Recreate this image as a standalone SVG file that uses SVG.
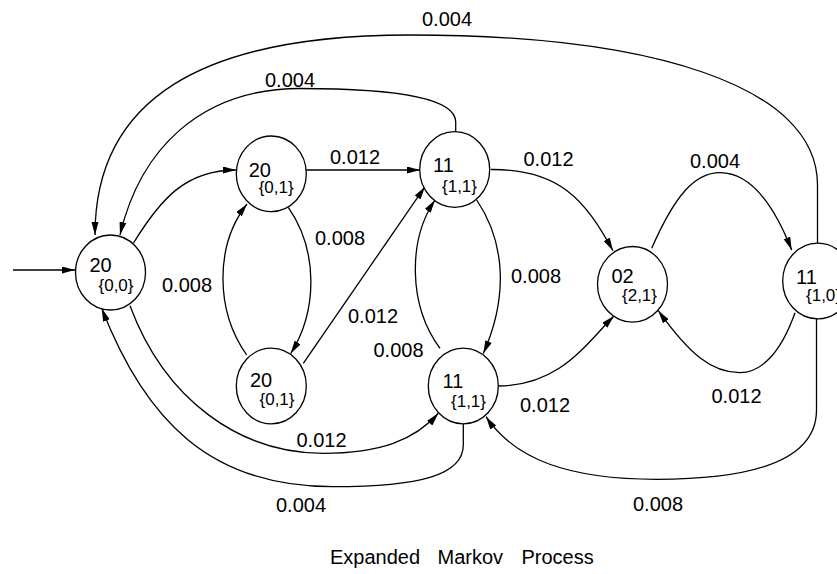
<svg xmlns="http://www.w3.org/2000/svg" width="837" height="574" viewBox="0 0 837 574">
<style>
.n ellipse{fill:#fff;stroke:#000;stroke-width:1.3}
.m{font-family:"Liberation Sans",Arial,sans-serif;font-size:20px;fill:#000}
.s{font-family:"Liberation Sans",Arial,sans-serif;font-size:17px;fill:#000}
.e path{fill:none;stroke:#000;stroke-width:1.3;marker-end:url(#ah)}
.l{font-family:"Liberation Sans",Arial,sans-serif;font-size:20px;fill:#000}
</style>
<defs>
<marker id="ah" markerUnits="userSpaceOnUse" markerWidth="14" markerHeight="8" refX="13" refY="3.5" orient="auto">
<path d="M0,0 L13,3.5 L0,7 z" fill="#000"/>
</marker>
</defs>
<rect width="837" height="574" fill="#fff"/>
<g id="connectors" class="e">
<path d="M13 270 L75 270"/>
<path d="M133.5 243 C160 200,185 170,236 170"/>
<path d="M306 170 L420 170"/>
<path d="M288.3 207.3 C318 250,318 310,290.7 353.5"/>
<path d="M246.7 355 C215 310,215 245,247 204"/>
<path d="M303.3 363.3 L425 186.7"/>
<path d="M476.7 200 C507 245,507 300,483.3 353.5"/>
<path d="M440 348.3 C408 305,408 240,435 200"/>
<path d="M491 169.5 C560 169,585 200,613 250.7"/>
<path d="M651.7 248.3 C675 195,695 172.7,720 172.7 C745 172.7,770 195,791.7 250"/>
<path d="M499 386 C560 385,585 345,614 316"/>
<path d="M795 312.7 C780 355,760 372.7,740 372.7 C712 372.7,690 355,658.3 310.7"/>
<path d="M816.5 319 L816.5 410 C816.5 465,740 479.3,656.7 479.3 C570 479.3,515 460,486 416.7"/>
<path d="M130 305.7 C165 400,240 453.3,323 453.3 C380 453.3,415 440,438.3 413.3"/>
<path d="M463.3 424 L463.3 445 C463.3 475,420 486.7,333 486.7 C210 486.7,145 420,101.7 308.3"/>
<path d="M455.7 132 L455.7 122 C455.7 97,390 88.5,300 88.5 C200 88.5,140 150,120 235"/>
<path d="M817.5 243 L817.5 185 C817.5 85,650 35,410 35 C200 35,95 100,95 235"/>
</g>
<g id="labels" class="l">
<text x="422" y="26">0.004</text>
<text x="265" y="87">0.004</text>
<text x="330" y="164">0.012</text>
<text x="315" y="245">0.008</text>
<text x="162" y="292">0.008</text>
<text x="348" y="323">0.012</text>
<text x="373.5" y="356.5">0.008</text>
<text x="511" y="283.3">0.008</text>
<text x="523.5" y="165.7">0.012</text>
<text x="690" y="167.7">0.004</text>
<text x="520" y="411.7">0.012</text>
<text x="711.5" y="403.3">0.012</text>
<text x="633" y="510.7">0.008</text>
<text x="296.5" y="446.7">0.012</text>
<text x="276" y="512.3">0.004</text>
</g>
<g id="nA" class="n"><ellipse cx="110.5" cy="272.5" rx="35" ry="37.5"/><text class="m" x="89.5" y="272.3">20</text><text class="s" x="98.5" y="291">{0,0}</text></g>
<g id="nB" class="n"><ellipse cx="271.3" cy="173.8" rx="35" ry="37.8"/><text class="m" x="248.7" y="177">20</text><text class="s" x="258.7" y="193.3">{0,1}</text></g>
<g id="nC" class="n"><ellipse cx="271.3" cy="386" rx="35" ry="37.8"/><text class="m" x="250" y="386.7">20</text><text class="s" x="259.5" y="405">{0,1}</text></g>
<g id="nD" class="n"><ellipse cx="454.7" cy="169.5" rx="35" ry="37.8"/><text class="m" x="433" y="171.5">11</text><text class="s" x="442" y="191.7">{1,1}</text></g>
<g id="nE" class="n"><ellipse cx="463.3" cy="386" rx="35" ry="37.8"/><text class="m" x="442.5" y="388.3">11</text><text class="s" x="451" y="406.7">{1,1}</text></g>
<g id="nF" class="n"><ellipse cx="632.5" cy="284.3" rx="35" ry="37.8"/><text class="m" x="611.5" y="283.3">02</text><text class="s" x="622" y="301">{2,1}</text></g>
<g id="nG" class="n"><ellipse cx="817.7" cy="281" rx="35" ry="37.8"/><text class="m" x="796" y="284">11</text><text class="s" x="806" y="301">{1,0}</text></g>
<g id="title" class="l"><text y="564"><tspan x="330">Expanded</tspan><tspan x="437.5">Markov</tspan><tspan x="521.5">Process</tspan></text></g>
</svg>
